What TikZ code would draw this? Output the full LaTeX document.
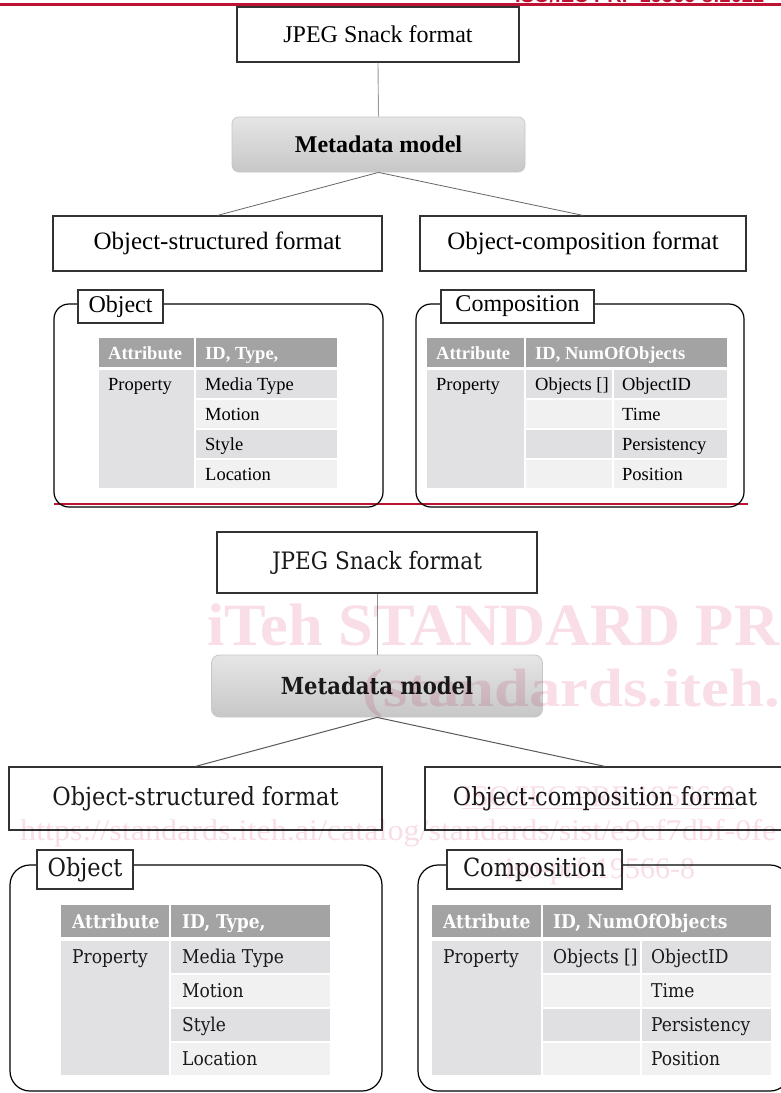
\documentclass[tikz,border=0pt]{standalone}
\usepackage{fontspec}
\setmainfont{Liberation Serif}
\newfontfamily\condserif{DejaVu Serif Condensed}
\newfontfamily\hdrsans{Liberation Sans}
\newcommand\setfs[1]{\fontsize{#1pt}{#1pt}\selectfont}

\definecolor{isored}{RGB}{190,18,50}
\definecolor{wmpink}{RGB}{249,222,231}
\definecolor{hdrgray}{RGB}{163,163,163}
\definecolor{colgray}{RGB}{225,225,227}
\definecolor{darkrow}{RGB}{224,224,226}
\definecolor{lightrow}{RGB}{241,241,241}
\definecolor{boxline}{RGB}{50,50,50}
\definecolor{inktext}{RGB}{25,25,25}

\tikzset{
  fmtbox/.style={draw=boxline, line width=1.2pt, fill=white, inner sep=0pt, text=black},
  metabox/.style={draw=black!22, line width=0.8pt, rounded corners=7pt,
    top color=black!10, bottom color=black!22, inner sep=0pt},
  framebox/.style={draw=black, line width=1.2pt, rounded corners=15pt, inner sep=0pt},
  tagbox/.style={draw=boxline, line width=1.2pt, fill=white, inner sep=0pt},
  link/.style={draw=black!60, line width=0.8pt},
  stem/.style={draw=black!40, line width=0.9pt},
  cell/.style={anchor=base west, inner sep=0pt},
  headcell/.style={cell, text=white},
  wm/.style={anchor=base west, inner sep=0pt, text=wmpink},
}

\begin{document}
\begin{tikzpicture}[x=1pt, y=-1pt]
\useasboundingbox (0,0) rectangle (781,1093);
\clip (0,0) rectangle (781,1093);
\fill[white] (0,0) rectangle (781,1093);

% ---------- running head ----------
\node[anchor=base west, inner sep=0pt, text=isored, font=\hdrsans\bfseries\setfs{20}] (runhead) at (515,2.5) {ISO/IEC PRF 19566-8:2022};
\draw[isored, line width=2.3pt] (0,4.5) -- (781,4.5);

% ================= upper figure =================
\begin{scope}[font=\setfs{24}]
\node[fmtbox, minimum width=282pt, minimum height=55pt] (tjpeg) at (378,34.5) {JPEG Snack format};
\node[metabox, minimum width=293pt, minimum height=55pt] (tmeta) at (378.5,144.5) {\bfseries Metadata model};
\node[fmtbox, minimum width=329pt, minimum height=55pt, font=\setfs{25}] (tosf) at (217.5,243.5) {Object-structured format};
\node[fmtbox, minimum width=326pt, minimum height=55pt, font=\setfs{25}] (tocf) at (583,243.5) {Object-composition format};
\end{scope}
\draw[stem] (tjpeg.south) -- (tmeta.north);
\draw[link] (tmeta.south) -- (tosf.north);
\draw[link] (tmeta.south) -- (tocf.north);

% red rule under the upper figure
\draw[isored, line width=2pt] (54,504) -- (748,504);

% Object frame
\node[framebox, minimum width=329pt, minimum height=203pt] (tobjframe) at (218.5,405.5) {};
\node[tagbox, minimum width=85pt, minimum height=33pt, font=\setfs{24}] (tobjtag) at (120.5,306.5) {Object};
\fill[hdrgray] (99,338) rectangle (194,367);
\fill[hdrgray] (196,338) rectangle (337,367);
\fill[colgray] (99,370) rectangle (194,488);
\fill[darkrow] (196,370) rectangle (337,398);
\fill[lightrow] (196,400) rectangle (337,428);
\fill[darkrow] (196,430) rectangle (337,458);
\fill[lightrow] (196,460) rectangle (337,488);
\begin{scope}[font=\setfs{18.5}]
\node[headcell] (toa) at (108,359) {\bfseries Attribute};
\node[headcell] (toid) at (205,359) {\bfseries ID, Type,};
\node[cell] (top) at (108,390.5) {Property};
\node[cell] (tomt) at (205,390.5) {Media Type};
\node[cell] (tomo) at (205,420.5) {Motion};
\node[cell] (tost) at (205,450.5) {Style};
\node[cell] (tolo) at (205,480.5) {Location};
\end{scope}

% Composition frame
\node[framebox, minimum width=328pt, minimum height=203pt] (tcomframe) at (580,405.5) {};
\node[tagbox, minimum width=153pt, minimum height=33pt, font=\setfs{24}] (tcomtag) at (517.5,306.5) {Composition};
\fill[hdrgray] (427,338) rectangle (524,367);
\fill[hdrgray] (526,338) rectangle (727,367);
\fill[colgray] (427,370) rectangle (524,488);
\fill[darkrow] (526,370) rectangle (612,398);
\fill[lightrow] (526,400) rectangle (612,428);
\fill[darkrow] (526,430) rectangle (612,458);
\fill[lightrow] (526,460) rectangle (612,488);
\fill[darkrow] (614,370) rectangle (727,398);
\fill[lightrow] (614,400) rectangle (727,428);
\fill[darkrow] (614,430) rectangle (727,458);
\fill[lightrow] (614,460) rectangle (727,488);
\begin{scope}[font=\setfs{18.5}]
\node[headcell] (tca) at (436,359) {\bfseries Attribute};
\node[headcell] (tcid) at (535,359) {\bfseries ID, NumOfObjects};
\node[cell] (tcp) at (436,390.5) {Property};
\node[cell] (tcob) at (535,390.5) {Objects []};
\node[cell] (tcoi) at (622,390.5) {ObjectID};
\node[cell] (tcti) at (622,420.5) {Time};
\node[cell] (tcpe) at (622,450.5) {Persistency};
\node[cell] (tcpo) at (622,480.5) {Position};
\end{scope}

% ================= lower figure =================
\begin{scope}[font=\condserif\setfs{25}, text=inktext]
\node[fmtbox, minimum width=320pt, minimum height=61pt, text=inktext, font=\condserif\setfs{24}] (bjpeg) at (377,562.5) {JPEG Snack format};
\node[metabox, minimum width=331pt, minimum height=62pt, rounded corners=8pt, font=\condserif\setfs{23.5}] (bmeta) at (377,686) {\bfseries Metadata model};
\node[fmtbox, minimum width=373pt, minimum height=63pt, text=inktext] (bosf) at (195.5,798.5) {Object-structured format};
\node[fmtbox, minimum width=360pt, minimum height=63pt, text=inktext] (bocf) at (605,798.5) {Object-composition format};
\end{scope}
\draw[stem, draw=black!45, line width=1pt] (bjpeg.south) -- (bmeta.north);
\draw[link, draw=black!65, line width=1pt] (bmeta.south) -- (bosf.north);
\draw[link, draw=black!65, line width=1pt] (bmeta.south) -- (bocf.north);

% Object frame
\node[framebox, rounded corners=20pt, minimum width=372pt, minimum height=226pt] (bobjframe) at (196,978) {};
\node[tagbox, minimum width=96pt, minimum height=39pt, font=\condserif\setfs{25}, text=inktext] (bobjtag) at (85,869.5) {Object};
\fill[hdrgray] (61,905) rectangle (169,937);
\fill[hdrgray] (171,905) rectangle (330,937);
\fill[colgray] (61,941) rectangle (169,1075);
\fill[darkrow] (171,941) rectangle (330,973);
\fill[lightrow] (171,975) rectangle (330,1007);
\fill[darkrow] (171,1009) rectangle (330,1041);
\fill[lightrow] (171,1043) rectangle (330,1075);
\begin{scope}[font=\condserif\setfs{19}, text=inktext]
\node[headcell] (boa) at (72,928) {\bfseries Attribute};
\node[headcell] (boid) at (182,928) {\bfseries ID, Type,};
\node[cell] (bop) at (72,963) {Property};
\node[cell] (bomt) at (182,963) {Media Type};
\node[cell] (bomo) at (182,997) {Motion};
\node[cell] (bost) at (182,1031) {Style};
\node[cell] (bolo) at (182,1065) {Location};
\end{scope}

% Composition frame
\node[framebox, rounded corners=20pt, minimum width=372pt, minimum height=226pt] (bcomframe) at (604,978) {};
\node[tagbox, minimum width=175pt, minimum height=39pt, font=\condserif\setfs{25}, text=inktext] (bcomtag) at (534.5,869.5) {Composition};
\fill[hdrgray] (432,905) rectangle (541,937);
\fill[hdrgray] (543,905) rectangle (771,937);
\fill[colgray] (432,941) rectangle (541,1075);
\fill[darkrow] (543,941) rectangle (640,973);
\fill[lightrow] (543,975) rectangle (640,1007);
\fill[darkrow] (543,1009) rectangle (640,1041);
\fill[lightrow] (543,1043) rectangle (640,1075);
\fill[darkrow] (642,941) rectangle (771,973);
\fill[lightrow] (642,975) rectangle (771,1007);
\fill[darkrow] (642,1009) rectangle (771,1041);
\fill[lightrow] (642,1043) rectangle (771,1075);
\begin{scope}[font=\condserif\setfs{19}, text=inktext]
\node[headcell] (bca) at (443,928) {\bfseries Attribute};
\node[headcell] (bcid) at (553,928) {\bfseries ID,\ NumOfObjects};
\node[cell] (bcp) at (443,963) {Property};
\node[cell] (bcob) at (553,963) {Objects []};
\node[cell] (bcoi) at (651,963) {ObjectID};
\node[cell] (bcti) at (651,997) {Time};
\node[cell] (bcpe) at (651,1031) {Persistency};
\node[cell] (bcpo) at (651,1065) {Position};
\end{scope}

% ---------- watermark overprint ----------
\begin{scope}[blend mode=multiply]
\node[wm, font=\bfseries\setfs{60}, xscale=1.04] (wmbig) at (207,645) {iTeh STANDARD PR};
\node[wm, font=\bfseries\setfs{54}, xscale=1.16] (wmsite) at (362,706) {(standards.iteh.};
\node[wm, font=\setfs{30}] (wmiso) at (462,806) {\underline{ISO/IEC PRF 19566-8}};
\node[wm, font=\setfs{30}, xscale=1.07] (wmurl) at (20,840) {https://standards.iteh.ai/catalog/standards/sist/e9cf7dbf-0fe};
\node[wm, font=\setfs{30}] (wmdoc) at (505,878) {iso-prf-19566-8};
\end{scope}
\end{tikzpicture}
\end{document}
